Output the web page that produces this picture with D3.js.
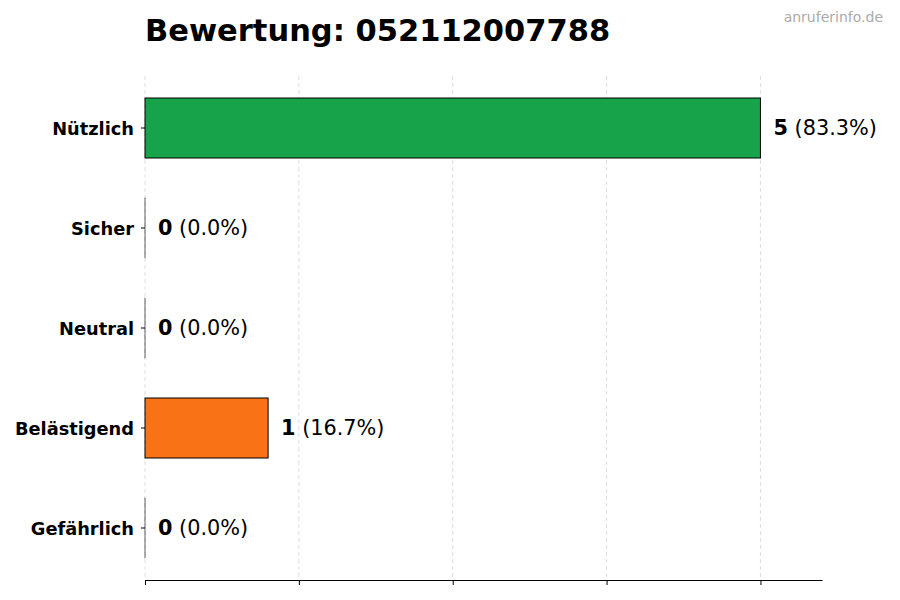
<!DOCTYPE html>
<html>
<head>
<meta charset="utf-8">
<script src="https://cdn.jsdelivr.net/npm/d3@7"></script>
<style>
  body { margin: 0; background: #fff; }
  text { font-family: "DejaVu Sans", sans-serif; }
</style>
</head>
<body>
<div id="chart"></div>
<script>
const categories = ["Nützlich", "Sicher", "Neutral", "Belästigend", "Gefährlich"];
const counts = [5, 0, 0, 1, 0];
const percents = ["83.3%", "0.0%", "0.0%", "16.7%", "0.0%"];
const colors = ["#16a34a", "#9ca3af", "#3b82f6", "#f97316", "#dc2626"];
const xTicks = [0, 1.25, 2.5, 3.75, 5];
const title = "Bewertung: 052112007788";

const width = 900, height = 600;
const margin = {top: 76, right: 78, bottom: 20, left: 145};

const svg = d3.select("#chart")
  .append("svg")
  .attr("width", width)
  .attr("height", height);

const xScale = d3.scaleLinear()
  .domain([0, 5.5])
  .range([margin.left, width - margin.right]);

const yScale = d3.scaleBand()
  .domain(categories)
  .range([78, 578])
  .paddingInner(0.4)
  .paddingOuter(0.2);

const plotBottom = height - margin.bottom;

// grid
svg.append("g")
  .selectAll("line")
  .data(xTicks)
  .join("line")
  .attr("x1", d => xScale(d))
  .attr("x2", d => xScale(d))
  .attr("y1", margin.top)
  .attr("y2", plotBottom)
  .attr("stroke", "#d6d6d6")
  .attr("stroke-width", 0.8)
  .attr("stroke-dasharray", "4,3");

// bars (zero values still get a hairline edge)
svg.append("g")
  .selectAll("rect")
  .data(categories)
  .join("rect")
  .attr("x", xScale(0))
  .attr("y", d => yScale(d))
  .attr("width", (d, i) => Math.max(xScale(counts[i]) - xScale(0), 0.01))
  .attr("height", yScale.bandwidth())
  .attr("fill", (d, i) => colors[i])
  .attr("stroke", "#000")
  .attr("stroke-width", (d, i) => counts[i] > 0 ? 1 : 0.6);

// value labels
const labels = svg.append("g")
  .selectAll("text")
  .data(categories)
  .join("text")
  .attr("x", (d, i) => xScale(counts[i]) + 13)
  .attr("y", d => yScale(d) + yScale.bandwidth() / 2)
  .attr("dy", "0.35em")
  .attr("font-size", 20.8);

labels.append("tspan")
  .attr("font-weight", "bold")
  .text((d, i) => counts[i]);
labels.append("tspan")
  .text((d, i) => " (" + percents[i] + ")");

// x axis
const xAxis = d3.axisBottom(xScale)
  .tickValues(xTicks)
  .tickSize(5)
  .tickFormat("")
  .tickSizeOuter(0);

svg.append("g")
  .attr("transform", `translate(0,${plotBottom})`)
  .call(xAxis)
  .call(g => g.select(".domain").attr("stroke", "#000"));

// y axis
const yAxis = d3.axisLeft(yScale)
  .tickSize(4)
  .tickPadding(7)
  .tickSizeOuter(0);

svg.append("g")
  .attr("transform", `translate(${margin.left},0)`)
  .call(yAxis)
  .call(g => g.select(".domain").remove())
  .call(g => g.selectAll("text")
    .attr("font-family", "DejaVu Sans, sans-serif")
    .attr("font-size", 17.8)
    .attr("font-weight", "bold")
    .attr("dy", "0.4em")
    .attr("fill", "#000"));

// title
svg.append("text")
  .attr("x", margin.left)
  .attr("y", 41)
  .attr("font-size", 30.5)
  .attr("font-weight", "bold")
  .text(title);

// watermark
svg.append("text")
  .attr("x", 883)
  .attr("y", 22)
  .attr("text-anchor", "end")
  .attr("font-size", 14)
  .attr("fill", "#aaaaaa")
  .text("anruferinfo.de");
</script>
</body>
</html>
